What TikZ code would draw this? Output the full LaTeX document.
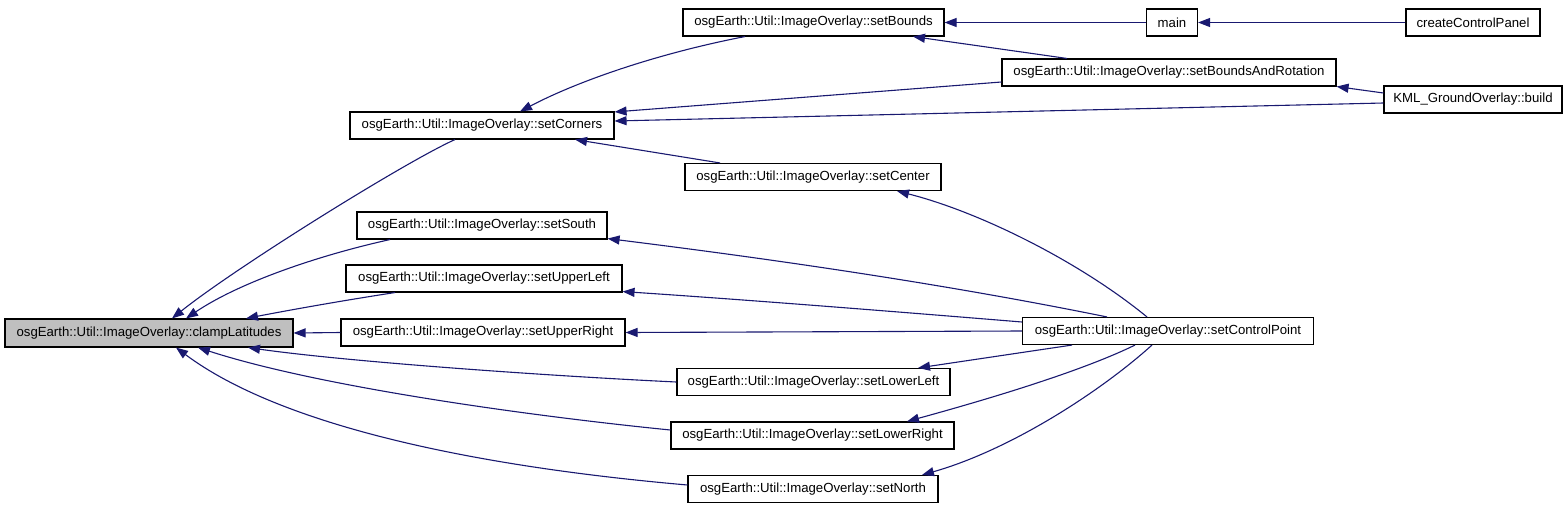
\documentclass[tikz,border=0pt]{standalone}
\usepackage{fontspec}
\newfontfamily\lsans{Liberation Sans}
\usetikzlibrary{arrows.meta}
\definecolor{edgecol}{HTML}{191970}
\definecolor{hilite}{HTML}{BFBFBF}
\tikzset{
  box/.style={draw=black, line width=1.1pt, rectangle, minimum height=27, inner sep=0pt,
    font=\lsans\fontsize{13.2}{15}\selectfont, text=black},
  calledge/.style={draw=edgecol, line width=1.1pt, -{Triangle[length=12pt,width=9pt]}},
}
\begin{document}
\begin{tikzpicture}[x=1pt,y=-1pt]
\useasboundingbox (0,0) rectangle (1568,509);
% nodes
\node[box, fill=hilite, minimum width=288, minimum height=28] (clamp) at (149,333) {osgEarth::Util::ImageOverlay::clampLatitudes};
\node[box, minimum width=264] (corners) at (482,125.5) {osgEarth::Util::ImageOverlay::setCorners};
\node[box, minimum width=250] (south) at (482,225.5) {osgEarth::Util::ImageOverlay::setSouth};
\node[box, minimum width=276] (upleft) at (484,278.5) {osgEarth::Util::ImageOverlay::setUpperLeft};
\node[box, minimum width=284] (upright) at (483,332.5) {osgEarth::Util::ImageOverlay::setUpperRight};
\node[box, minimum width=261] (bounds) at (813.5,22.5) {osgEarth::Util::ImageOverlay::setBounds};
\node[box, minimum width=256] (center) at (813,177) {osgEarth::Util::ImageOverlay::setCenter};
\node[box, minimum width=273] (lowleft) at (813.5,382) {osgEarth::Util::ImageOverlay::setLowerLeft};
\node[box, minimum width=283] (lowright) at (812.5,435.5) {osgEarth::Util::ImageOverlay::setLowerRight};
\node[box, minimum width=250] (north) at (813,489) {osgEarth::Util::ImageOverlay::setNorth};
\node[box, minimum width=51] (main) at (1172,22.5) {main};
\node[box, minimum width=334] (sbr) at (1169,72.5) {osgEarth::Util::ImageOverlay::setBoundsAndRotation};
\node[box, minimum width=291] (scp) at (1168,331) {osgEarth::Util::ImageOverlay::setControlPoint};
\node[box, minimum width=134] (ccp) at (1473,22.5) {createControlPanel};
\node[box, minimum width=178] (kml) at (1473,99.5) {KML\_GroundOverlay::build};
% edges into clampLatitudes
\draw[calledge] ([xshift=-27pt]corners.south) .. controls (405,162) and (235,268) .. ([xshift=23pt]clamp.north);
\draw[calledge] ([xshift=-92pt]south.south) .. controls (320,255) and (240,282) .. ([xshift=37pt]clamp.north);
\draw[calledge] ([xshift=-89pt]upleft.south) .. controls (340,301) and (290,310) .. ([xshift=97pt]clamp.north);
\draw[calledge] (upright.west) -- (clamp.east);
\draw[calledge] (lowleft.west) .. controls (550,376) and (350,362) .. ([xshift=99pt]clamp.south);
\draw[calledge] ([yshift=5.5pt]lowright.west) .. controls (530,416) and (320,387) .. ([xshift=49pt]clamp.south);
\draw[calledge] ([yshift=4pt]north.west) .. controls (470,466) and (280,425) .. ([xshift=27pt]clamp.south);
% edges into setCorners
\draw[calledge] ([xshift=-68.5pt]bounds.south) .. controls (660,53) and (580,80) .. ([xshift=38pt]corners.north);
\draw[calledge] ([yshift=-9.5pt]sbr.west) -- ([yshift=-0.5pt]corners.north east);
\draw[calledge] ([yshift=-3.5pt]kml.west) -- ([yshift=4.5pt]corners.east);
\draw[calledge] ([xshift=-93pt]center.north) -- ([xshift=93pt]corners.south);
% top right
\draw[calledge] (main.west) -- (bounds.east);
\draw[calledge] ([xshift=-102pt]sbr.north) -- ([xshift=99.5pt]bounds.south);
\draw[calledge] (ccp.west) -- (main.east);
\draw[calledge] ([yshift=6.5pt]kml.west) -- (sbr.south east);
% from setControlPoint
\draw[calledge] ([xshift=-21pt]scp.north) .. controls (1080,262) and (980,212) .. ([xshift=84pt]center.south);
\draw[calledge] ([xshift=-61pt]scp.north) .. controls (950,285) and (780,260) .. ([yshift=1pt]south.south east);
\draw[calledge] ([yshift=9pt]scp.west) .. controls (900,312) and (750,300) .. ([yshift=1pt]upleft.south east);
\draw[calledge] (scp.west) -- (upright.east);
\draw[calledge] ([xshift=-96pt]scp.south) -- ([xshift=104.5pt]lowleft.north);
\draw[calledge] ([xshift=-33pt]scp.south) .. controls (1080,372) and (985,400) .. ([xshift=94.5pt]lowright.north);
\draw[calledge] ([xshift=-16pt]scp.south) .. controls (1100,392) and (1010,450) .. ([xshift=109pt]north.north);
\end{tikzpicture}
\end{document}
